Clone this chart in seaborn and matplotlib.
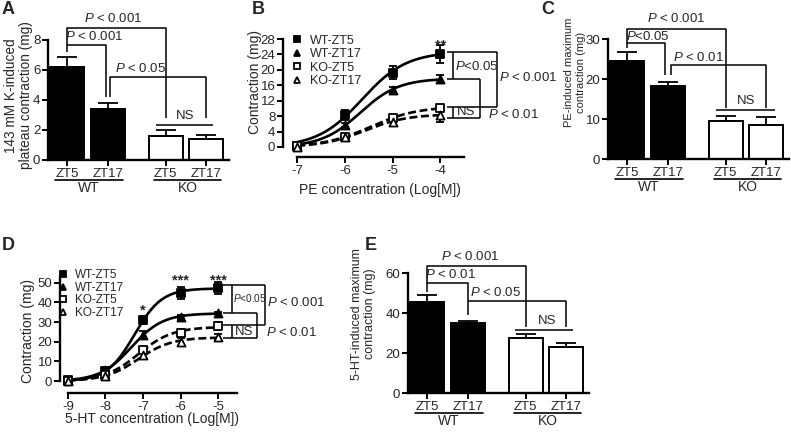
import numpy as np
import pandas as pd
import matplotlib
matplotlib.use("Agg")
import matplotlib.pyplot as plt
import seaborn as sns
from matplotlib.lines import Line2D

sns.set_theme(style="ticks")
plt.rcParams['font.family'] = ['Liberation Sans', 'DejaVu Sans']
plt.rcParams['mathtext.fontset'] = 'custom'
plt.rcParams['mathtext.rm'] = 'Liberation Sans'
plt.rcParams['mathtext.it'] = 'Liberation Sans:italic'
plt.rcParams['axes.unicode_minus'] = False

# ---- data ----
genotypes = ["WT", "WT", "KO", "KO"]
times = ["ZT5", "ZT17", "ZT5", "ZT17"]

k_mean = [6.2, 3.4, 1.6, 1.4]          # A: 143 mM K-induced plateau
k_sem = [0.65, 0.4, 0.4, 0.3]
pe_max_mean = [24.5, 18.3, 9.5, 8.5]   # C: PE-induced maximum
pe_max_sem = [2.2, 0.9, 1.3, 2.0]
ht_max_mean = [45.5, 35.0, 27.5, 23.0]  # E: 5-HT-induced maximum
ht_max_sem = [3.5, 0.8, 2.2, 2.0]

series_names = ["WT-ZT5", "WT-ZT17", "KO-ZT5", "KO-ZT17"]

pe_conc = [-7, -6, -5, -4]              # B: PE concentration-response
pe_wt_zt5 = [0.3, 8.3, 19.3, 24.2]
pe_wt_zt5_sem = [0.3, 1.3, 1.8, 2.3]
pe_wt_zt17 = [0.2, 5.7, 14.8, 17.6]
pe_wt_zt17_sem = [0.2, 0.6, 0.8, 1.0]
pe_ko_zt5 = [0.2, 2.7, 7.5, 10.0]
pe_ko_zt5_sem = [0.2, 0.6, 0.9, 0.8]
pe_ko_zt17 = [0.1, 2.5, 6.6, 8.3]
pe_ko_zt17_sem = [0.1, 0.6, 1.2, 1.8]

ht_conc = [-9, -8, -7, -6, -5]          # D: 5-HT concentration-response
ht_wt_zt5 = [0.5, 5.0, 31.0, 45.0, 47.5]
ht_wt_zt5_sem = [0.5, 1.0, 2.0, 3.0, 3.0]
ht_wt_zt17 = [0.3, 5.5, 23.5, 32.5, 34.7]
ht_wt_zt17_sem = [0.3, 0.8, 2.0, 1.0, 0.5]
ht_ko_zt5 = [0.2, 3.0, 16.0, 24.5, 28.0]
ht_ko_zt5_sem = [0.2, 0.8, 1.5, 2.0, 2.0]
ht_ko_zt17 = [0.1, 2.5, 13.0, 20.0, 22.5]
ht_ko_zt17_sem = [0.1, 0.6, 1.5, 2.0, 1.5]

# ---- layout ----
W, H = 791, 433
fig = plt.figure(figsize=(W / 100, H / 100), dpi=100)
bar_pos = [0, 1, 2.4, 3.4]
FS = 9.5


def px_axes(left, top, width, height):
    return fig.add_axes([left / W, 1 - (top + height) / H, width / W, height / H])


def style_axes(ax):
    sns.despine(ax=ax)
    for s in ("left", "bottom"):
        ax.spines[s].set_linewidth(1.7)
        ax.spines[s].set_color("black")
    ax.tick_params(width=1.4, length=4, labelsize=FS, pad=1.5, color="black")


def bracket(ax, xs, ys):
    ax.plot(xs, ys, color="black", lw=1.1, clip_on=False, solid_capstyle="butt")


def note(ax, x, y, s, ha="center", fs=FS):
    ax.text(x, y, s, ha=ha, va="center", fontsize=fs, clip_on=False)


def ylabel_lines(ax, lines, xs, y, fs):
    # each line of the rotated y label placed on its own
    for s, x in zip(lines, xs):
        ax.text(x, y, s, transform=ax.transAxes, rotation=90,
                ha="center", va="center", fontsize=fs)


def hill_fit(x, y):
    # least-squares sigmoid fit of the plotted points (grid search)
    x = np.asarray(x, float)
    y = np.asarray(y, float)
    ec = np.arange(x.min(), x.max(), 0.01)
    n = np.arange(0.4, 2.5, 0.01)
    E, N = np.meshgrid(ec, n, indexing="ij")
    g = 1 / (1 + 10 ** ((E[..., None] - x) * N[..., None]))
    top = (g * y).sum(-1) / (g * g).sum(-1)
    sse = ((top[..., None] * g - y) ** 2).sum(-1)
    i = np.unravel_index(sse.argmin(), sse.shape)
    return top[i], E[i], N[i]


def bar_panel(ax, means, sems, ymax, yticks):
    df = pd.DataFrame({"pos": bar_pos, "value": means, "genotype": genotypes})
    sns.barplot(data=df, x="pos", y="value", hue="genotype",
                palette={"WT": "black", "KO": "white"}, native_scale=True,
                width=0.83, dodge=False, edgecolor="black", linewidth=1.4,
                errorbar=None, legend=False, ax=ax)
    ax.errorbar(bar_pos, means, yerr=[np.zeros(len(sems)), sems], fmt="none",
                ecolor="black", elinewidth=1.3, capsize=7, capthick=1.3, zorder=0.5)
    ax.set_xlim(-0.47, 3.95)
    ax.set_ylim(0, ymax)
    ax.set_yticks(yticks)
    ax.set_xticks(bar_pos, times)
    ax.set_xlabel("")
    ax.set_ylabel("")
    style_axes(ax)
    tr = ax.get_xaxis_transform()
    for x0, x1, lab in [(-0.3, 1.36, "WT"), (2.12, 3.76, "KO")]:
        ax.plot([x0, x1], [-0.167, -0.167], transform=tr, color="black", lw=1.2, clip_on=False)
        ax.text((x0 + x1) / 2, -0.235, lab, transform=tr, ha="center", va="center", fontsize=FS + 0.5)


def curve_panel(ax, conc, series, ms):
    markers = ["s", "^", "s", "^"]
    fills = ["black", "black", "white", "white"]
    styles = ["-", "-", (0, (3, 1.4)), (0, (3, 1.4))]
    xs = np.linspace(min(conc), max(conc), 200)
    for (vals, sems), mk, fc, ls in zip(series, markers, fills, styles):
        top, ec, n = hill_fit(conc, vals)
        ys = top / (1 + 10 ** ((ec - xs) * n))
        sns.lineplot(x=xs, y=ys, color="black", lw=1.9, linestyle=ls, ax=ax, zorder=2)
        ax.errorbar(conc, vals, yerr=sems, fmt="none", ecolor="black",
                    elinewidth=1.3, capsize=3, capthick=1.3, zorder=3)
        sns.scatterplot(x=conc, y=vals, marker=mk, color=fc, edgecolor="black",
                        linewidth=1.3, s=ms if mk == "s" else ms * 1.2,
                        zorder=4, legend=False, ax=ax)
    style_axes(ax)
    ax.set_xticks(conc, [str(c) for c in conc])
    ax.set_xlabel("")
    ax.set_ylabel("")


def curve_legend(ax, anchor, fs, spacing):
    handles = [Line2D([], [], ls="none", marker=m, mfc=f, mec="black", mew=1.3, ms=5)
               for m, f in zip(["s", "^", "s", "^"], ["black", "black", "white", "white"])]
    ax.legend(handles, series_names, loc="upper left", bbox_to_anchor=anchor,
              frameon=False, fontsize=fs, handlelength=1.0, handletextpad=0.5,
              labelspacing=spacing, borderpad=0, borderaxespad=0)


# ---------------- A ----------------
axA = px_axes(48, 40, 181, 120)
bar_panel(axA, k_mean, k_sem, 8, [0, 2, 4, 6, 8])
ylabel_lines(axA, ["143 mM K-induced", "plateau contraction (mg)"], [-0.204, -0.122], 0.54, FS + 0.3)
bracket(axA, [0, 0, 2.4, 2.4], [7.67, 8.78, 8.78, 2.8])
bracket(axA, [0, 0, 0.95, 0.95], [7.2, 7.67, 7.67, 4.2])
bracket(axA, [1.05, 1.05, 3.4, 3.4], [4.2, 5.53, 5.53, 2.8])
bracket(axA, [2.17, 3.55], [2.33, 2.33])
note(axA, 1.12, 9.45, "$P$ < 0.001")
note(axA, 0.66, 8.2, "$P$ < 0.001")
note(axA, 1.78, 6.1, "$P$ < 0.05")
note(axA, 2.88, 2.95, "NS")

# ---------------- B ----------------
axB = px_axes(283, 39, 181, 118)
curve_panel(axB, pe_conc, [(pe_wt_zt5, pe_wt_zt5_sem), (pe_wt_zt17, pe_wt_zt17_sem),
                           (pe_ko_zt5, pe_ko_zt5_sem), (pe_ko_zt17, pe_ko_zt17_sem)], 28)
axB.set_xlim(-7.3, -3.5)
axB.set_ylim(-2.6, 28)
axB.set_yticks(range(0, 29, 4))
axB.spines["left"].set_bounds(0, 28)
axB.spines["bottom"].set_bounds(-7, -3.5)
curve_legend(axB, (0.045, 1.035), 9, 0.12)
axB.text(-0.155, 0.636, "Contraction (mg)", transform=axB.transAxes, rotation=90,
         ha="center", va="center", fontsize=FS + 0.5)
axB.text(0.536, -0.28, "PE concentration (Log[M])", transform=axB.transAxes,
         ha="center", va="center", fontsize=FS + 0.5)
axB.text(-4, 26.3, "**", ha="center", va="center", fontsize=FS + 1, weight="bold")
bracket(axB, [-3.85, -2.80], [24.6, 24.6])
bracket(axB, [-3.85, -3.16], [17.6, 17.6])
bracket(axB, [-3.85, -2.80], [10.4, 10.4])
bracket(axB, [-3.85, -3.16], [7.5, 7.5])
bracket(axB, [-3.73, -3.73], [24.6, 17.6])
bracket(axB, [-3.73, -3.73], [10.4, 7.5])
bracket(axB, [-3.16, -3.16], [17.6, 7.5])
bracket(axB, [-2.80, -2.80], [24.6, 10.4])
note(axB, -3.69, 20.9, "$P$<0.05", ha="left")
note(axB, -3.445, 9.0, "NS")
note(axB, -3.0, 8.3, "$P$ < 0.01", ha="left")
note(axB, -2.76, 18.1, "$P$ < 0.001", ha="left")

# ---------------- C ----------------
axC = px_axes(608, 39, 181, 120)
bar_panel(axC, pe_max_mean, pe_max_sem, 30, [0, 10, 20, 30])
ylabel_lines(axC, ["PE-induced maximum", "contraction (mg)"], [-0.213, -0.15], 0.725, 8)
bracket(axC, [0, 0, 2.4, 2.4], [29, 32.5, 32.5, 12.7])
bracket(axC, [0, 0, 0.93, 0.93], [27.7, 29, 29, 21])
bracket(axC, [1.07, 1.07, 3.4, 3.4], [21, 23.5, 23.5, 12.7])
bracket(axC, [2.17, 3.6], [12.2, 12.2])
note(axC, 1.2, 35.2, "$P$ < 0.001")
note(axC, 0.5, 30.6, "$P$<0.05")
note(axC, 1.75, 25.4, "$P$ < 0.01")
note(axC, 2.9, 14.6, "NS")

# ---------------- D ----------------
axD = px_axes(60, 275, 177, 118)
curve_panel(axD, ht_conc, [(ht_wt_zt5, ht_wt_zt5_sem), (ht_wt_zt17, ht_wt_zt17_sem),
                           (ht_ko_zt5, ht_ko_zt5_sem), (ht_ko_zt17, ht_ko_zt17_sem)], 28)
axD.set_xlim(-9.21, -4.5)
axD.set_ylim(-6.1, 54)
axD.set_yticks(range(0, 51, 10))
axD.spines["left"].set_bounds(0, 53)
axD.spines["bottom"].set_bounds(-9, -4.5)
curve_legend(axD, (-0.017, 1.05), 8.5, 0.05)
axD.text(-0.18, 0.525, "Contraction (mg)", transform=axD.transAxes, rotation=90,
         ha="center", va="center", fontsize=FS + 0.5)
axD.text(0.52, -0.22, "5-HT concentration (Log[M])", transform=axD.transAxes,
         ha="center", va="center", fontsize=FS + 0.5)
axD.text(-7, 35.7, "*", ha="center", va="center", fontsize=FS + 1, weight="bold")
axD.text(-6, 51, "***", ha="center", va="center", fontsize=FS + 1, weight="bold")
axD.text(-5, 51, "***", ha="center", va="center", fontsize=FS + 1, weight="bold")
bracket(axD, [-4.87, -3.75], [49, 49])
bracket(axD, [-4.87, -3.96], [34.7, 34.7])
bracket(axD, [-4.87, -3.75], [28.6, 28.6])
bracket(axD, [-4.87, -3.96], [22, 22])
bracket(axD, [-4.64, -4.64], [49, 34.7])
bracket(axD, [-4.64, -4.64], [28.6, 22])
bracket(axD, [-3.96, -3.96], [34.7, 22])
bracket(axD, [-3.75, -3.75], [49, 28.6])
note(axD, -4.6, 42.3, "$P$<0.05", ha="left", fs=7.2)
note(axD, -3.69, 39.8, "$P$ < 0.001", ha="left")
note(axD, -4.3, 25.2, "NS")
note(axD, -3.72, 24.5, "$P$ < 0.01", ha="left")

# ---------------- E ----------------
axE = px_axes(408, 273, 181, 120)
bar_panel(axE, ht_max_mean, ht_max_sem, 60, [0, 20, 40, 60])
ylabel_lines(axE, ["5-HT-induced maximum", "contraction (mg)"], [-0.28, -0.212], 0.66, 9)
bracket(axE, [0, 0, 2.4, 2.4], [55, 63.5, 63.5, 33])
bracket(axE, [0, 0, 1, 1], [50.5, 55, 55, 39])
bracket(axE, [1, 3.4, 3.4], [46, 46, 33])
bracket(axE, [2.15, 3.55], [31.5, 31.5])
note(axE, 1.05, 68, "$P$ < 0.001")
note(axE, 0.56, 59, "$P$ < 0.01")
note(axE, 1.66, 50.5, "$P$ < 0.05")
note(axE, 2.93, 36, "NS")

# panel letters
for lab, x, y in [("A", 8, 9), ("B", 258, 9), ("C", 548, 10), ("D", 8, 245), ("E", 371, 246)]:
    fig.text(x / W, 1 - y / H, lab, ha="center", va="center", fontsize=13, weight="heavy")

fig.savefig("out.png", dpi=100)
